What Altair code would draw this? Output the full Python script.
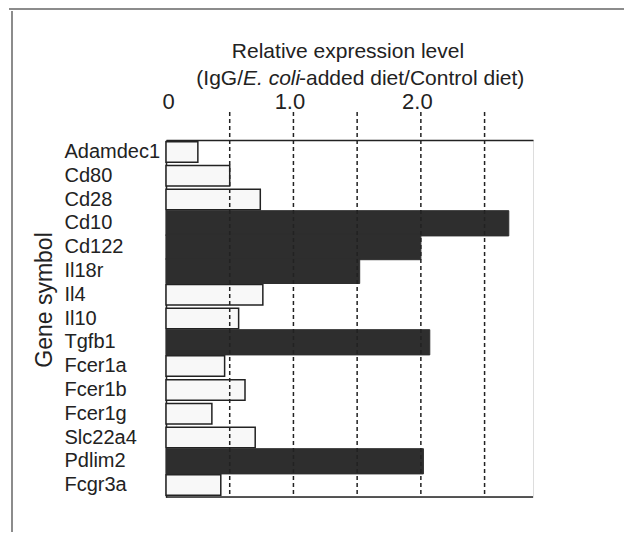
import altair as alt
import pandas as pd

genes = ["Adamdec1", "Cd80", "Cd28", "Cd10", "Cd122", "Il18r", "Il4", "Il10",
         "Tgfb1", "Fcer1a", "Fcer1b", "Fcer1g", "Slc22a4", "Pdlim2", "Fcgr3a"]
values = [0.25, 0.50, 0.74, 2.69, 2.00, 1.52, 0.76, 0.57,
          2.07, 0.46, 0.62, 0.36, 0.70, 2.02, 0.43]
groups = ["low", "low", "low", "high", "high", "high", "low", "low",
          "high", "low", "low", "low", "low", "high", "low"]
grid_values = [0.5, 1.0, 1.5, 2.0, 2.5]
tick_values = [0, 1, 2]

W, H = 367, 357
FONT = "Liberation Sans"
INK = "#222222"

df = pd.DataFrame({"gene": genes, "value": values, "group": groups})
gdf = pd.DataFrame({"g": grid_values})

xscale = alt.Scale(domain=[0, 2.88], nice=False, zero=True)

yenc = alt.Y("gene:N", sort=genes,
             scale=alt.Scale(domain=genes, paddingInner=0, paddingOuter=0),
             axis=alt.Axis(title=None, orient="left", labelAlign="left",
                           labelPadding=102, ticks=False, labelFontSize=20,
                           labelFont=FONT, labelColor=INK, domainColor=INK,
                           domainWidth=1.5, grid=False))
xenc = alt.X("value:Q", scale=xscale,
             axis=alt.Axis(title=None, orient="top", values=tick_values,
                           labelExpr="datum.value == 0 ? '0' : format(datum.value, '.1f')",
                           ticks=False, labelPadding=27, labelFontSize=22,
                           labelOffset=-4,
                           labelFont=FONT, labelColor=INK, domainColor=INK,
                           domainWidth=1.5, grid=False))

light = alt.Chart(df).transform_filter(alt.datum.group == "low").mark_bar(
    fill="#f8f8f8", stroke=INK, strokeWidth=1.5,
    height=alt.RelativeBandSize(0.86),
).encode(y=yenc, x=xenc)

dark = alt.Chart(df).transform_filter(alt.datum.group == "high").mark_bar(
    fill="#2e2e2e", stroke="#2e2e2e", strokeWidth=1,
    height=alt.RelativeBandSize(1.06),
).encode(y=yenc, x=xenc)

grid = alt.Chart(gdf).mark_rule(strokeDash=[4, 3], color=INK, strokeWidth=1.5).encode(
    x=alt.X("g:Q", scale=xscale),
    y=alt.value(-28),
    y2=alt.value(H),
)

bottom = alt.Chart(gdf.head(1)).mark_rule(color=INK, strokeWidth=1.5).encode(
    x=alt.value(0), x2=alt.value(W), y=alt.value(H)
)

frame_top = alt.Chart(gdf.head(1)).mark_rule(color="#666666", strokeWidth=1.5).encode(
    x=alt.value(-157), x2=alt.value(470), y=alt.value(-131)
)
frame_left = alt.Chart(gdf.head(1)).mark_rule(color="#666666", strokeWidth=1.5).encode(
    x=alt.value(-154), y=alt.value(-129), y2=alt.value(410)
)

def txt(s, x, y, align="left", style="normal", angle=0, size=21):
    return alt.Chart(pd.DataFrame({"t": [s]})).mark_text(
        font=FONT, fontSize=size, color=INK, align=align, baseline="alphabetic",
        fontStyle=style, angle=angle
    ).encode(text="t:N", x=alt.value(x), y=alt.value(y))

t1 = txt("Relative expression level", 182, -82, align="center")
t2a = txt("(IgG/", 77, -55, align="right")
t2b = txt("E. coli", 77, -55, align="left", style="italic")
t2c = txt("-added diet/Control diet)", 133, -55, align="left")
ytitle = txt("Gene symbol", -114, 160, align="center", angle=270, size=23)

chart = alt.layer(light, dark, grid, bottom, frame_top, frame_left,
                  t1, t2a, t2b, t2c, ytitle).properties(
    width=W, height=H,
    autosize=alt.AutoSizeParams(type="none"),
    padding={"left": 158, "top": 132, "right": 91, "bottom": 35},
).configure_view(stroke=None).configure(background="white")

chart.save("out.html", embed_options={"renderer": "svg", "actions": False})
